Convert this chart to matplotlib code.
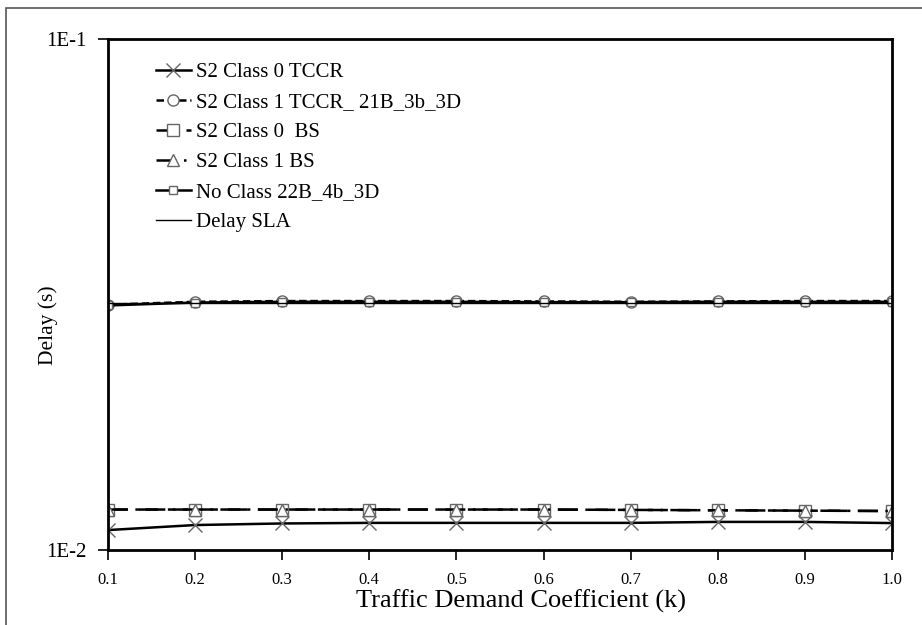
import matplotlib
matplotlib.use("Agg")
import matplotlib.pyplot as plt
from matplotlib.patches import Rectangle
from matplotlib.ticker import FixedLocator, FixedFormatter, NullLocator

plt.rcParams['font.family'] = ['Liberation Serif', 'DejaVu Serif']

k = [0.1, 0.2, 0.3, 0.4, 0.5, 0.6, 0.7, 0.8, 0.9, 1.0]

# delays (s)
s2_c0_tccr = [0.01094, 0.01119, 0.01127, 0.01130, 0.01130, 0.01130, 0.01130, 0.01135, 0.01135, 0.01129]
s2_c1_tccr = [0.03020, 0.03060, 0.03070, 0.03070, 0.03070, 0.03065, 0.03060, 0.03065, 0.03070, 0.03070]
s2_c0_bs = [0.01200, 0.01200, 0.01200, 0.01200, 0.01200, 0.01200, 0.01198, 0.01196, 0.01194, 0.01192]
s2_c1_bs = [0.01200, 0.01200, 0.01200, 0.01200, 0.01200, 0.01200, 0.01198, 0.01196, 0.01194, 0.01192]
no_class = [0.03010, 0.03050, 0.03060, 0.03060, 0.03060, 0.03055, 0.03055, 0.03060, 0.03060, 0.03060]
delay_sla = [0.0305] * len(k)

fig = plt.figure(figsize=(9.22, 6.25), dpi=100)
ax = fig.add_axes([0.117, 0.12, 0.8505, 0.8176])

# outer grey frame
fig.patches.append(Rectangle((0.006, -0.05), 1.2, 1.037, transform=fig.transFigure,
                             fill=False, edgecolor='#555555', lw=1.2))

gray = '#666666'
ax.plot(k, s2_c0_tccr, color='black', lw=1.8, marker='x', ms=10, mec=gray, mew=1,
        label='S2 Class 0 TCCR')
ax.plot(k, s2_c1_tccr, color='black', lw=1.8, ls=(0, (3, 1.5)), marker='o', ms=8,
        mfc='white', mec=gray, label='S2 Class 1 TCCR_ 21B_3b_3D')
ax.plot(k, s2_c0_bs, color='black', lw=1.8, ls=(0, (8, 4)), marker='s', ms=9,
        mfc='white', mec=gray, label='S2 Class 0  BS')
ax.plot(k, s2_c1_bs, color='black', lw=1.8, ls=(0, (8, 3, 1, 3)), marker='^', ms=8,
        mfc='white', mec=gray, label='S2 Class 1 BS')
ax.plot(k, no_class, color='black', lw=1.8, marker='s', ms=6, mfc='white', mec=gray,
        label='No Class 22B_4b_3D')
ax.plot(k, delay_sla, color='black', lw=1, label='Delay SLA')

ax.set_yscale('log')
ax.set_ylim(0.01, 0.1)
ax.set_xlim(0.1, 1.0)
ax.yaxis.set_major_locator(FixedLocator([0.01, 0.1]))
ax.yaxis.set_major_formatter(FixedFormatter(['1E-2', '1E-1']))
ax.yaxis.set_minor_locator(NullLocator())
ax.set_xticks(k)
ax.set_xticklabels(['%.1f' % v for v in k])
ax.tick_params(axis='both', direction='out', length=7, width=1.2, labelsize=12, pad=9)
ax.tick_params(axis='y', pad=8, labelsize=15)
for sp in ax.spines.values():
    sp.set_linewidth(2)

ax.set_xlabel('Traffic Demand Coefficient (k)', fontsize=19)
ax.xaxis.set_label_coords(0.527, -0.077)
ax.set_ylabel('Delay (s)', fontsize=15.5)
ax.yaxis.set_label_coords(-0.063, 0.44)

ax.legend(loc='upper left', bbox_to_anchor=(0.037, 0.99), frameon=False, fontsize=15,
          handlelength=1.7, handletextpad=0.25, labelspacing=0.5)

fig.savefig('out.png', dpi=100)
